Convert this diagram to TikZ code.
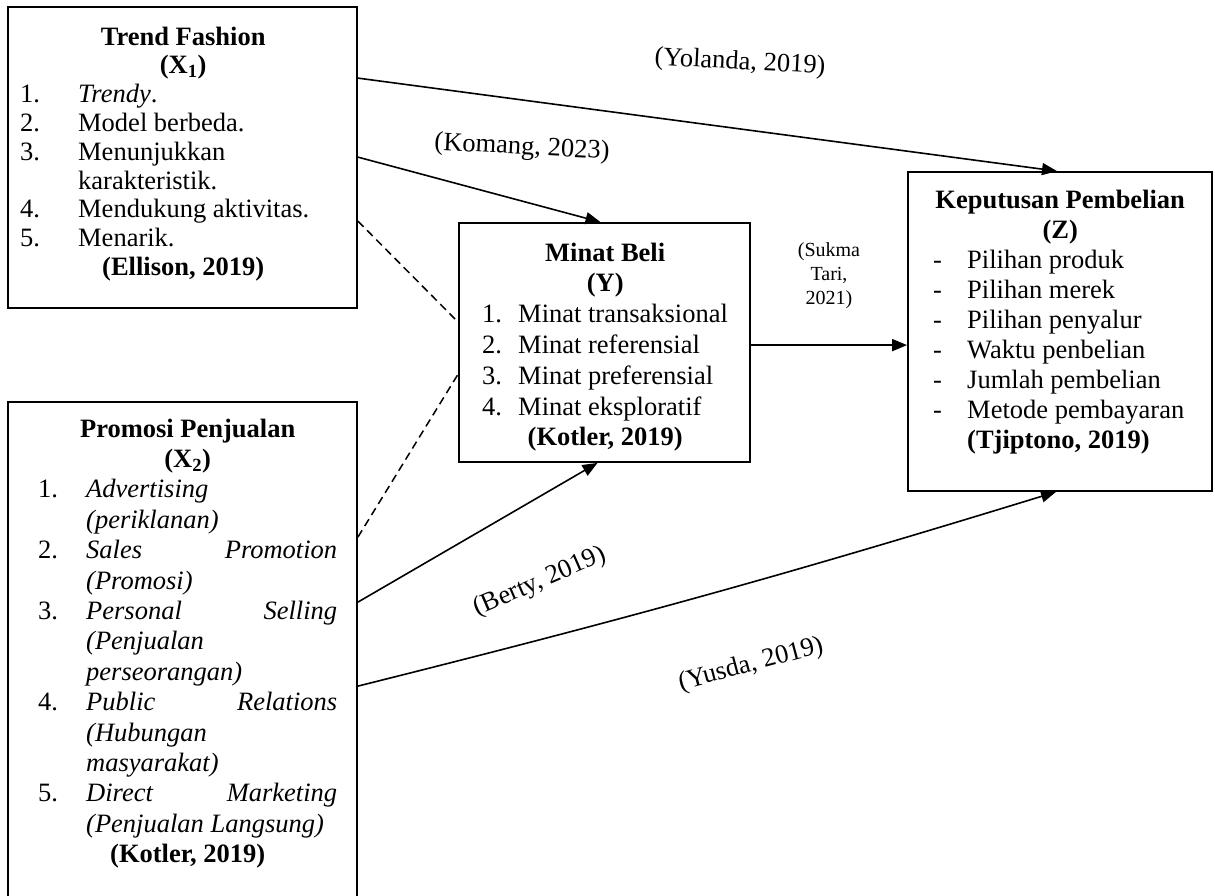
\documentclass[tikz,border=0pt]{standalone}
\usepackage{fontspec}
\setmainfont{Liberation Serif}
\usetikzlibrary{arrows.meta}
\begin{document}
\begin{tikzpicture}[x=1pt,y=-1pt,
  box/.style={draw=black, line width=1.8pt, rectangle, inner sep=0pt},
  txt/.style={anchor=base west, inner sep=0pt},
  conn/.style={line width=1.6pt, -{Triangle[length=15pt,width=12pt]}},
  dashln/.style={line width=1.5pt, dash pattern=on 8pt off 5pt},
  lbl/.style={inner sep=0pt, font=\fontsize{26.5}{30}\selectfont},
  slbl/.style={inner sep=0pt, align=center, font=\fontsize{20}{24}\selectfont}]
\useasboundingbox (0,0) rectangle (1215,895);
\clip (0,0) rectangle (1215,895);

% boxes
\node[box, minimum width=349pt, minimum height=301pt] (x1) at (182.5,157.5) {};
\node[box, minimum width=349pt, minimum height=518pt] (x2) at (182.5,661) {};
\node[box, minimum width=291pt, minimum height=239pt] (y) at (604.5,342.5) {};
\node[box, minimum width=304pt, minimum height=319pt] (z) at (1060,331.5) {};

% texts
\node[txt] (tx1) at (20,45) {\begin{minipage}[t]{326pt}\fontsize{26.5}{28.8}\selectfont\raggedright
{\centering\textbf{Trend Fashion}\\\textbf{(X\textsubscript{1})}\par}
\makebox[58pt][l]{1.}\textit{Trendy}.\\
\makebox[58pt][l]{2.}Model berbeda.\\
\makebox[58pt][l]{3.}Menunjukkan\\
\hspace*{58pt}karakteristik.\\
\makebox[58pt][l]{4.}Mendukung aktivitas.\\
\makebox[58pt][l]{5.}Menarik.\par
{\centering\textbf{(Ellison, 2019)}\par}
\end{minipage}};

\node[txt] (tx2) at (38,437) {\begin{minipage}[t]{299pt}\fontsize{26.5}{30.4}\selectfont\raggedright
{\centering\textbf{Promosi Penjualan}\\\textbf{(X\textsubscript{2})}\par}
\makebox[48pt][l]{1.}\textit{Advertising}\\
\hspace*{48pt}\textit{(periklanan)}\\
\makebox[48pt][l]{2.}\makebox[251pt]{\textit{Sales}\hfill\textit{Promotion}}\\
\hspace*{48pt}\textit{(Promosi)}\\
\makebox[48pt][l]{3.}\makebox[251pt]{\textit{Personal}\hfill\textit{Selling}}\\
\hspace*{48pt}\textit{(Penjualan}\\
\hspace*{48pt}\textit{perseorangan)}\\
\makebox[48pt][l]{4.}\makebox[251pt]{\textit{Public}\hfill\textit{Relations}}\\
\hspace*{48pt}\textit{(Hubungan}\\
\hspace*{48pt}\textit{masyarakat)}\\
\makebox[48pt][l]{5.}\makebox[251pt]{\textit{Direct}\hfill\textit{Marketing}}\\
\hspace*{48pt}\textit{(Penjualan Langsung)}\par
{\centering\textbf{(Kotler, 2019)}\par}
\end{minipage}};

\node[txt] (ty) at (470,261) {\begin{minipage}[t]{270pt}\fontsize{26.5}{30.8}\selectfont\raggedright
{\centering\textbf{Minat Beli}\\\textbf{(Y)}\par}
\hspace*{12pt}\makebox[36pt][l]{1.}Minat transaksional\\
\hspace*{12pt}\makebox[36pt][l]{2.}Minat referensial\\
\hspace*{12pt}\makebox[36pt][l]{3.}Minat preferensial\\
\hspace*{12pt}\makebox[36pt][l]{4.}Minat eksploratif\par
{\centering\textbf{(Kotler, 2019)}\par}
\end{minipage}};

\node[txt] (tz) at (918,208) {\begin{minipage}[t]{284pt}\fontsize{26.5}{30}\selectfont\raggedright
{\centering\textbf{Keputusan Pembelian}\\\textbf{(Z)}\par}
\hspace*{15pt}\makebox[34pt][l]{-}Pilihan produk\\
\hspace*{15pt}\makebox[34pt][l]{-}Pilihan merek\\
\hspace*{15pt}\makebox[34pt][l]{-}Pilihan penyalur\\
\hspace*{15pt}\makebox[34pt][l]{-}Waktu penbelian\\
\hspace*{15pt}\makebox[34pt][l]{-}Jumlah pembelian\\
\hspace*{15pt}\makebox[34pt][l]{-}Metode pembayaran\\
\hspace*{49pt}\textbf{(Tjiptono, 2019)}\par
\end{minipage}};

% connectors
\draw[conn] ([yshift=-72pt]x1.north east) -- ([xshift=-3pt]z.north);
\draw[conn] ([yshift=-151pt]x1.north east) -- ([xshift=-4pt]y.north);
\draw[dashln] ([yshift=-215pt]x1.north east) -- ([yshift=-100pt]y.north west);
\draw[dashln] ([yshift=-136pt]x2.north east) -- ([yshift=-152pt]y.north west);
\draw[conn] ([yshift=-201pt]x2.north east) -- ([xshift=-7pt]y.south);
\draw[conn] ([yshift=-285pt]x2.north east) to[bend right=1.5] ([xshift=-4pt]z.south);
\draw[conn] ([yshift=-123pt]y.north east) -- ([yshift=-174pt]z.north west);

% labels
\node[lbl, rotate=-3] (lyol) at (740,63) {(Yolanda, 2019)};
\node[lbl, rotate=-3] (lkom) at (522,148) {(Komang, 2023)};
\node[lbl, rotate=23.5] (lber) at (540,582) {(Berty, 2019)};
\node[lbl, rotate=15] (lyus) at (751,665) {(Yusda, 2019)};
\node[slbl] (lsuk) at (829,276) {(Sukma\\Tari,\\2021)};
\end{tikzpicture}
\end{document}
